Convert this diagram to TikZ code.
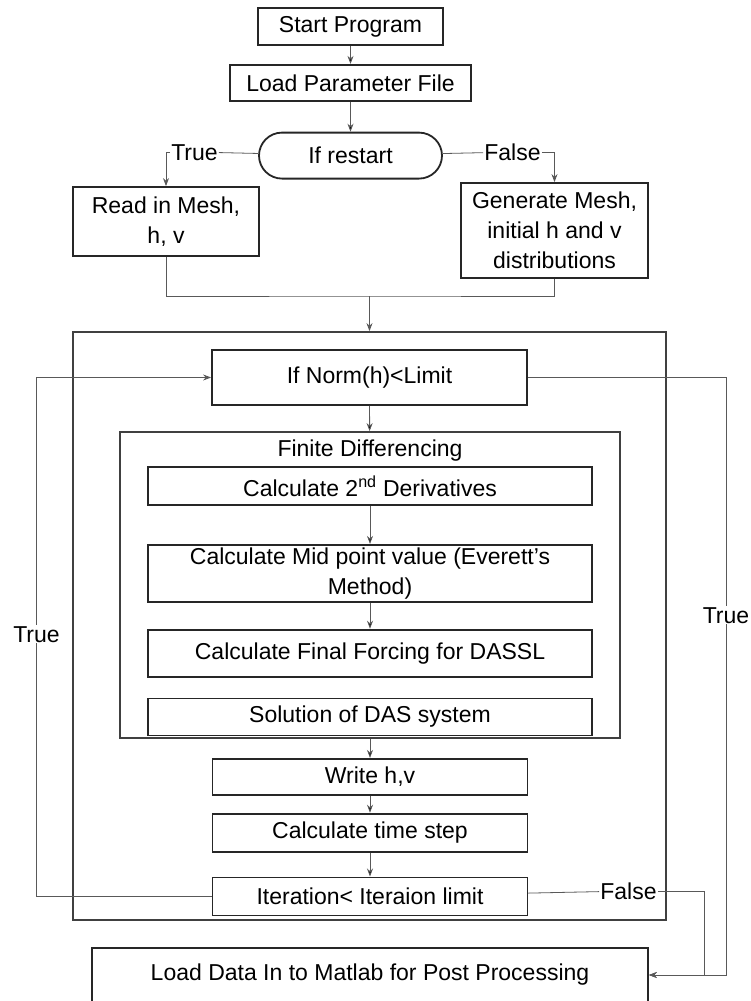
\documentclass[tikz,border=0pt]{standalone}
\usepackage{fontspec}
\setmainfont{Liberation Sans}
\usetikzlibrary{arrows.meta,positioning}

\begin{document}
\begin{tikzpicture}[x=1pt,y=-1pt,>={Stealth[length=8pt,width=6pt]},
    every node/.style={font=\fontsize{23}{30}\selectfont},
    box/.style={draw=black!85,line width=1.8pt,fill=white,inner sep=0pt,align=center},
    frame/.style={draw=black!75,line width=1.8pt,inner sep=0pt},
    conn/.style={draw=black!65,line width=0.8pt},
    lbl/.style={inner sep=1pt,text height=16pt,text depth=0pt}]
    \useasboundingbox (0,0) rectangle (751,1001);

    \node[box,minimum width=185pt,minimum height=37pt] (start) at (350.5,26.5) {Start Program};
    \node[box,minimum width=241pt,minimum height=36pt] (load) [below=18pt of start] {Load Parameter File};
    \node[box,minimum width=183pt,minimum height=46pt,rounded corners=23pt] (restart) [below=30pt of load] {If restart};
    \node[box,minimum width=186pt,minimum height=69pt] (read) at (166,221.5) {Read in Mesh,\\ h, v};
    \node[box,minimum width=187pt,minimum height=95pt] (gen) at (554.5,230.5) {Generate Mesh,\\ initial h and v\\ distributions};
    \node[lbl] (ttrue) at (194.5,152) {True};
    \node[lbl] (tfalse) at (512.5,152) {False};
    \coordinate (join) at (369.5,296);

    \node[frame,minimum width=593pt,minimum height=588pt] (loop) at (369.5,626) {};
    \node[box,minimum width=315pt,minimum height=55pt] (norm) at (369.5,377.5) {If Norm(h)<Limit};
    \node[frame,minimum width=500pt,minimum height=306pt] (fd) at (370,585) {};
    \node (fdtitle) at (370,451) {Finite Differencing};
    \node[box,minimum width=444pt,minimum height=38pt] (d2) at (370,486) {Calculate 2\textsuperscript{nd} Derivatives};
    \node[box,minimum width=444pt,minimum height=57pt] (mid) [below=38pt of d2] {Calculate Mid point value (Everett’s\\ Method)};
    \node[box,minimum width=444pt,minimum height=47pt] (force) [below=26pt of mid] {Calculate Final Forcing for DASSL};
    \node[box,minimum width=444pt,minimum height=37pt] (das) [below=20pt of force] {Solution of DAS system};
    \node[box,minimum width=315pt,minimum height=36pt] (write) [below=19pt of fd] {Write h,v};
    \node[box,minimum width=315pt,minimum height=38pt] (tstep) [below=17pt of write] {Calculate time step};
    \node[box,minimum width=315pt,minimum height=38pt] (iter) [below=24pt of tstep] {Iteration< Iteraion limit};
    \node[box,minimum width=556pt,minimum height=54pt] (post) at (370,975) {Load Data In to Matlab for Post Processing};
    \node[lbl] (ltrue) at (36.5,634) {True};
    \node[lbl] (rtrue) at (726,615) {True};
    \node[lbl] (ifalse) at (628.5,891) {False};
    \coordinate (fdrop) at (704,975);

    \path[->,conn]
    (start) edge (load)
    (load) edge (restart)
    (norm) edge (fd)
    (d2) edge (mid)
    (mid) edge (force)
    (fd) edge (write)
    (write) edge (tstep)
    (tstep) edge (iter)
    ;

    \draw[conn] (restart) -- (ttrue);
    \draw[conn,->] (ttrue) -| (read);
    \draw[conn] (restart) -- (tfalse);
    \draw[conn,->] (tfalse) -| (gen);
    \draw[conn] (read) |- (join) -| (gen);
    \draw[conn,->] (join) -- (loop);
    \draw[conn] (iter) -| (ltrue);
    \draw[conn,->] (ltrue) |- (norm);
    \draw[conn] (norm) -| (rtrue);
    \draw[conn,->] (rtrue) |- (post);
    \draw[conn] (iter) -- (ifalse);
    \draw[conn,->] (ifalse) -| (fdrop) -- (post.east);
  \end{tikzpicture}
\end{document}
